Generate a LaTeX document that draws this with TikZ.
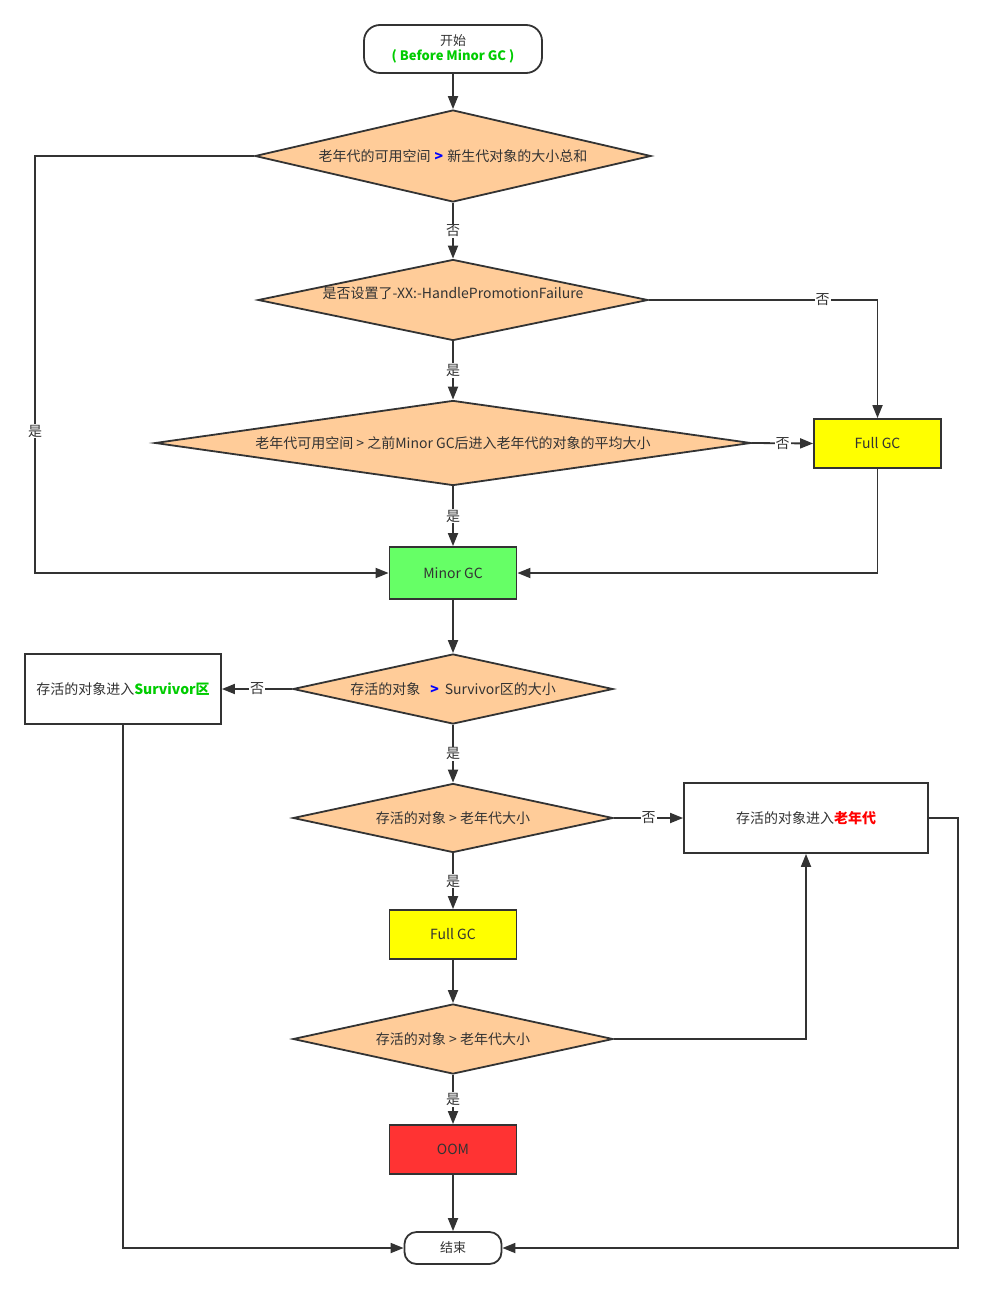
\documentclass[tikz,border=0pt]{standalone}
\usepackage{fontspec}
\setmainfont{Noto Sans CJK SC}
\usetikzlibrary{shapes.geometric,arrows.meta}
\definecolor{edge}{HTML}{333333}
\definecolor{peach}{HTML}{FFCC99}
\definecolor{yel}{HTML}{FFFF00}
\definecolor{mgc}{HTML}{66FF66}
\definecolor{oomred}{HTML}{FF3333}
\definecolor{grn}{HTML}{00CC00}

\begin{document}
\begin{tikzpicture}[x=1pt, y=-1pt, font=\fontsize{14}{17}\selectfont,
	every node/.style={text=edge},
	arr/.style={draw=edge, line width=1.8pt, -{Triangle[length=13pt,width=10pt]}},
	cond/.style={diamond, draw=edge, line width=1.8pt, fill=peach, inner sep=0pt},
	box/.style={rectangle, draw=edge, line width=1.8pt, inner sep=0pt, minimum width=127pt, minimum height=49pt},
	term/.style={rectangle, draw=edge, line width=1.8pt, fill=white, inner sep=0pt, font=\fontsize{13}{17}\selectfont},
	yn/.style={fill=white, inner sep=1pt}]
\useasboundingbox (0,0) rectangle (982,1289);

\coordinate (lft) at (35,0);
\coordinate (rgt) at (958,0);

% upper part
\node[term, minimum width=178pt, minimum height=48pt, rounded corners=16pt, align=center] (start) at (453,49) {\raisebox{-2pt}{开始}\\{\color{grn}\bfseries ( Before Minor GC )}};
\node[cond, minimum width=396pt, minimum height=92pt, shape aspect=4.3] (q1) at (453,156) {老年代的可用空间\hspace{4pt}{\color{blue}\bfseries >}\hspace{4pt}新生代对象的大小总和};
\node[cond, minimum width=390pt, minimum height=81pt, shape aspect=4.8, label={[yshift=7pt]center:是否设置了-XX:-HandlePromotionFailure}] (q2) at (453,300) {};
\node[cond, minimum width=596pt, minimum height=85pt, shape aspect=7] (q3) at (453,443) {老年代可用空间 > 之前Minor GC后进入老年代的对象的平均大小};
\node[box, fill=yel] (fgc1) at (877.5,443.5) {Full GC};
\node[box, fill=mgc, minimum height=52pt] (minor) at (453,573) {Minor GC};

% lower part
\node[cond, minimum width=320pt, minimum height=70pt, shape aspect=4.6] (q4) at (453,689) {存活的对象\hspace{10pt}{\color{blue}\bfseries >}\hspace{6pt}Survivor区的大小};
\node[box, minimum width=196pt, minimum height=70pt] (surv) at (123,689) {存活的对象进入{\color{grn}\bfseries Survivor区}};
\node[cond, minimum width=320pt, minimum height=69pt, shape aspect=4.6] (q5) at (453,818) {存活的对象 > 老年代大小};
\node[box, minimum width=244pt, minimum height=70pt] (old) at (806,818) {存活的对象进入{\color{red}\bfseries 老年代}};
\node[box, fill=yel] (fgc2) at (453,934.5) {Full GC};
\node[cond, minimum width=320pt, minimum height=70pt, shape aspect=4.6] (q6) at (453,1039) {存活的对象 > 老年代大小};
\node[box, fill=oomred] (oom) at (453,1149.5) {OOM};
\node[term, minimum width=97pt, minimum height=32pt, rounded corners=12pt] (end) at (453,1248) {结束};

% connectors
\draw[arr] (start) -- (q1);
\draw[arr] (q1) -- node[yn]{否} (q2);
\draw[arr] (q2) -- node[yn]{是} (q3);
\draw[arr] (q3) -- node[yn]{是} (minor);
\draw[arr] (q3.east) -- node[yn]{否} (fgc1.west);
\draw[arr] (q2.east) -| node[yn, pos=.38]{否} (fgc1.north);
\draw[arr] (fgc1.south) |- (minor.east);
\draw[arr] (q1.west) -- (q1.west -| lft) -- node[yn, pos=.66]{是} (minor.west -| lft) -- (minor.west);

\draw[arr] (minor) -- (q4);
\draw[arr] (q4.west) -- node[yn]{否} (surv.east);
\draw[arr] (q4) -- node[yn]{是} (q5);
\draw[arr] (q5.east) -- node[yn]{否} (old.west);
\draw[arr] (q5) -- node[yn]{是} (fgc2);
\draw[arr] (fgc2) -- (q6);
\draw[arr] (q6.east) -| (old.south);
\draw[arr] (q6) -- node[yn]{是} (oom);
\draw[arr] (oom) -- (end);
\draw[arr] (surv.south) |- (end.west);
\draw[arr] (old.east) -- (old.east -| rgt) |- (end.east);

\end{tikzpicture}
\end{document}
